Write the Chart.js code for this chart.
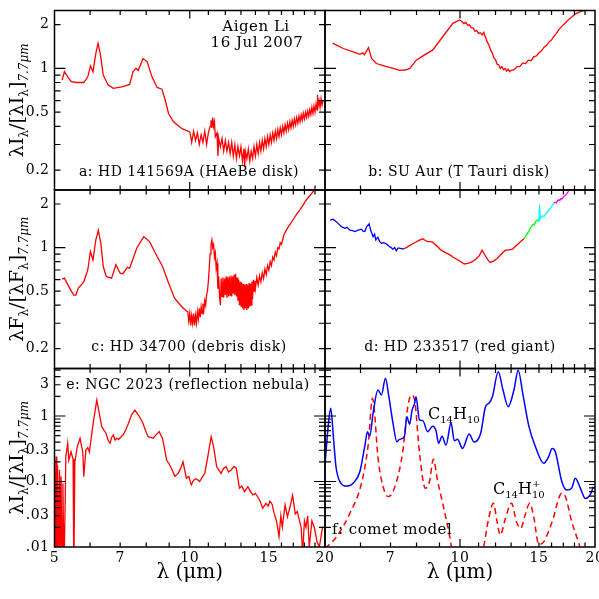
<!DOCTYPE html>
<html lang="en">
<head>
<meta charset="UTF-8">
<title>PAH spectra, six panels</title>
<script src="https://cdn.jsdelivr.net/npm/chart.js"></script>
<style>
  body { margin: 0; background: #fff; }
  #wrap { position: relative; width: 599px; height: 599px; }
  #wrap canvas { position: absolute; left: 0; top: 0; }
</style>
</head>
<body>
<div id="wrap">
  <canvas id="panelA" width="599" height="599"></canvas>
  <canvas id="panelB" width="599" height="599"></canvas>
  <canvas id="panelC" width="599" height="599"></canvas>
  <canvas id="panelD" width="599" height="599"></canvas>
  <canvas id="panelE" width="599" height="599"></canvas>
  <canvas id="panelF" width="599" height="599"></canvas>
</div>
<script>
// --- data (wavelength in micron, flux normalised at 7.7 micron) ---
const xTicks = [5, 6, 7, 8, 9, 10, 11, 12, 13, 14, 15, 16, 17, 18, 19, 20];
const xLabels = [5, 7, 10, 15, 20];
const yTicksTop = [0.2, 0.3, 0.4, 0.5, 0.6, 0.7, 0.8, 0.9, 1, 2];
const yLabelsTop = [0.2, 0.5, 1, 2];
const yTicksBottom = [0.01, 0.02, 0.03, 0.04, 0.05, 0.06, 0.07, 0.08, 0.09,
                      0.1, 0.2, 0.3, 0.4, 0.5, 0.6, 0.7, 0.8, 0.9, 1, 2, 3, 4, 5];
const yLabelsBottom = [0.01, 0.03, 0.1, 0.3, 1, 3];
const yLabelsBottomText = ['.01', '.03', '0.1', '0.3', '1', '3'];

// a: HD 141569A
const aWave = [5.2, 5.26, 5.37, 5.45, 5.6, 5.81, 5.93, 6.01, 6.09, 6.18, 6.25, 6.32, 6.42, 6.58, 6.76, 7.1,
  7.35, 7.48, 7.59, 7.68, 7.87, 8.04, 8.24, 8.46, 8.67, 8.82, 8.97, 9.2, 9.61, 10.0,
  10.05, 10.1, 10.2, 10.3, 10.4, 10.5, 10.6, 10.7, 10.8, 10.9, 11.0, 11.1, 11.15, 11.2, 11.25, 11.3, 11.35,
  11.4, 11.5, 11.55, 11.6, 11.7, 11.8, 11.9, 12.0, 12.1, 12.2, 12.3, 12.4, 12.5, 12.6, 12.7, 12.8, 12.9,
  13.0, 13.1, 13.2, 13.25, 13.3, 13.4, 13.5, 13.6, 13.7, 13.8, 13.9, 14.0, 14.1, 14.2, 14.3, 14.4, 14.5,
  14.6, 14.7, 14.8, 14.9, 15.0, 15.1, 15.2, 15.3, 15.4, 15.5, 15.6, 15.7, 15.8, 15.9, 16.0, 16.1, 16.2,
  16.3, 16.4, 16.5, 16.6, 16.7, 16.8, 16.9, 17.0, 17.1, 17.2, 17.3, 17.4, 17.5, 17.6, 17.7, 17.8, 17.9,
  18.0, 18.1, 18.2, 18.3, 18.4, 18.5, 18.6, 18.7, 18.8, 18.9, 19.0, 19.1, 19.2, 19.25, 19.3, 19.4, 19.5,
  19.6, 19.7, 19.8];
const aFlux = [0.83, 0.95, 0.86, 0.81, 0.80, 0.80, 0.875, 1.04, 0.95, 1.27, 1.49, 1.27, 0.90, 0.77, 0.73, 0.75,
  0.776, 0.95, 1.0, 0.97, 1.17, 1.11, 0.875, 0.74, 0.72, 0.604, 0.49, 0.43, 0.385, 0.366,
  0.34, 0.31, 0.37, 0.32, 0.36, 0.30, 0.35, 0.31, 0.37, 0.30, 0.36, 0.40, 0.44, 0.39, 0.46, 0.40, 0.43,
  0.34, 0.36, 0.25, 0.33, 0.29, 0.33, 0.27, 0.32, 0.27, 0.31, 0.26, 0.31, 0.25, 0.30, 0.24, 0.29, 0.25,
  0.29, 0.23, 0.28, 0.21, 0.27, 0.24, 0.28, 0.23, 0.27, 0.24, 0.29, 0.25, 0.30, 0.26, 0.31, 0.27, 0.32,
  0.28, 0.33, 0.29, 0.34, 0.30, 0.35, 0.31, 0.36, 0.32, 0.37, 0.33, 0.38, 0.34, 0.39, 0.35, 0.40, 0.36,
  0.41, 0.37, 0.42, 0.38, 0.43, 0.39, 0.44, 0.40, 0.45, 0.41, 0.46, 0.42, 0.47, 0.43, 0.48, 0.44, 0.49,
  0.45, 0.50, 0.46, 0.51, 0.47, 0.52, 0.48, 0.54, 0.49, 0.55, 0.50, 0.57, 0.52, 0.66, 0.55, 0.60, 0.54,
  0.62, 0.56, 0.60];

// b: SU Aur
const bWave = [5.2, 5.49, 5.78, 5.98, 6.07, 6.12, 6.25, 6.35, 6.51, 6.85, 7.1, 7.33, 7.55, 7.73, 7.99, 8.27,
  8.7, 9.15, 9.64, 9.98, 10.1, 10.2, 10.3, 10.4, 10.5, 10.6, 10.7, 10.8, 10.9, 11.0, 11.1, 11.2, 11.3,
  11.35, 11.4, 11.5, 11.6, 11.7, 11.8, 11.9, 12.0, 12.1, 12.2, 12.3, 12.4, 12.5, 12.6, 12.7, 12.8, 12.9,
  13.0, 13.2, 13.4, 13.6, 13.8, 14.0, 14.2, 14.4, 14.6, 14.8, 15.0, 15.2, 15.4, 15.6, 15.8, 16.0, 16.2,
  16.4, 16.6, 16.9, 17.2, 17.5, 17.8, 18.1, 18.4, 18.7, 19.2, 19.5];
const bFlux = [1.49, 1.37, 1.30, 1.25, 1.28, 1.24, 1.39, 1.17, 1.08, 1.03, 1.0, 0.97, 0.975, 1.0, 1.14, 1.22,
  1.34, 1.65, 2.04, 2.15, 2.1, 2.03, 2.07, 1.98, 1.99, 1.9, 1.9, 1.8, 1.82, 1.74, 1.76, 1.7, 1.77,
  1.68, 1.64, 1.52, 1.45, 1.34, 1.28, 1.18, 1.15, 1.07, 1.06, 1.0, 1.03, 0.98, 1.0, 0.96, 0.99, 0.95,
  0.97, 0.98, 1.03, 1.03, 1.09, 1.08, 1.14, 1.13, 1.2, 1.22, 1.28, 1.32, 1.40, 1.44, 1.52, 1.57, 1.66,
  1.74, 1.84, 1.96, 2.06, 2.18, 2.27, 2.37, 2.43, 2.48, 2.52, 2.6];

// c: HD 34700
const cWave = [5.2, 5.26, 5.33, 5.45, 5.52, 5.58, 5.65, 5.81, 5.93, 6.01, 6.09, 6.18, 6.26, 6.34, 6.42, 6.52,
  6.7, 6.85, 7.0, 7.1, 7.26, 7.35, 7.62, 7.9, 8.14, 8.46, 8.7, 8.95, 9.25, 9.6, 9.85,
  9.9, 9.95, 10.0, 10.05, 10.1, 10.15, 10.2, 10.25, 10.3, 10.35, 10.4, 10.45, 10.5, 10.55, 10.6, 10.65,
  10.7, 10.75, 10.8, 10.85, 10.9, 10.95, 11.0, 11.05, 11.1, 11.15, 11.2, 11.25, 11.3, 11.35, 11.4, 11.45,
  11.5, 11.55, 11.6, 11.65, 11.7, 11.75, 11.8, 11.85, 11.9, 11.95, 12.0, 12.05, 12.1, 12.15, 12.2, 12.25,
  12.3, 12.35, 12.4, 12.45, 12.5, 12.55, 12.6, 12.65, 12.7, 12.75, 12.8, 12.85, 12.9, 12.95, 13.0, 13.05,
  13.1, 13.15, 13.2, 13.25, 13.3, 13.35, 13.4, 13.45, 13.5, 13.55, 13.6, 13.65, 13.7, 13.75, 13.8, 13.85,
  13.9, 13.95, 14.0, 14.1, 14.2, 14.3, 14.4, 14.5, 14.6, 14.7, 14.8, 14.9, 15.0, 15.1, 15.2, 15.3, 15.4,
  15.5, 15.6, 15.7, 15.8, 15.9, 16.0, 16.2, 16.4, 16.6, 16.8, 17.0, 17.3, 17.6, 17.9, 18.2, 18.5, 18.9, 19.1];
const cFlux = [0.605, 0.615, 0.568, 0.50, 0.47, 0.47, 0.525, 0.58, 0.70, 0.94, 0.82, 1.13, 1.32, 1.07, 0.74, 0.63,
  0.615, 0.76, 0.665, 0.66, 0.73, 0.72, 0.99, 1.19, 1.1, 0.867, 0.74, 0.58, 0.447, 0.39, 0.363,
  0.36, 0.31, 0.35, 0.29, 0.34, 0.30, 0.35, 0.29, 0.34, 0.30, 0.36, 0.32, 0.38, 0.33, 0.39, 0.35,
  0.41, 0.37, 0.43, 0.40, 0.47, 0.50, 0.58, 0.72, 0.90, 1.05, 1.13, 1.0, 1.05, 0.86, 0.92, 0.72,
  0.78, 0.52, 0.63, 0.46, 0.40, 0.61, 0.46, 0.62, 0.45, 0.61, 0.47, 0.63, 0.45, 0.62, 0.46, 0.63,
  0.47, 0.64, 0.46, 0.63, 0.48, 0.65, 0.47, 0.66, 0.46, 0.62, 0.43, 0.60, 0.40, 0.58, 0.39, 0.57,
  0.38, 0.56, 0.37, 0.55, 0.38, 0.56, 0.37, 0.55, 0.38, 0.57, 0.39, 0.56, 0.40, 0.58, 0.44, 0.60,
  0.50, 0.59, 0.52, 0.62, 0.55, 0.64, 0.58, 0.67, 0.61, 0.71, 0.65, 0.75, 0.70, 0.80, 0.75, 0.86, 0.82,
  0.93, 0.88, 1.0, 0.98, 1.08, 1.05, 1.22, 1.32, 1.40, 1.48, 1.57, 1.70, 1.83, 1.98, 2.15, 2.28, 2.48, 2.56];

// d: HD 233517, pieces from different instruments
const dBlueWave = [5.13, 5.21, 5.28, 5.35, 5.45, 5.54, 5.6, 5.68, 5.76, 5.83, 5.93, 6.03, 6.08, 6.13, 6.2,
  6.27, 6.33, 6.4, 6.45, 6.49, 6.56, 6.62, 6.68, 6.76, 6.85, 6.95, 7.02, 7.08, 7.15, 7.21, 7.27, 7.33, 7.42, 7.52];
const dBlueFlux = [1.55, 1.57, 1.52, 1.47, 1.39, 1.36, 1.38, 1.32, 1.31, 1.29, 1.32, 1.34, 1.30, 1.29, 1.40,
  1.46, 1.30, 1.19, 1.24, 1.13, 1.18, 1.10, 1.07, 1.08, 1.06, 1.02, 1.0, 0.975, 1.0, 0.95, 0.99, 0.99, 0.98, 0.985];
const dRedWave = [7.52, 7.59, 7.75, 7.92, 8.1, 8.26, 8.37, 8.47, 8.6, 8.69, 8.9, 9.07, 9.3, 9.5, 9.63, 9.9,
  10.22, 10.45, 10.66, 10.85, 11.03, 11.2, 11.4, 11.55, 11.67, 11.9, 12.1, 12.35, 12.6, 12.85, 13.1, 13.3,
  13.53, 13.7, 13.88];
const dRedFlux = [0.985, 1.0, 1.04, 1.08, 1.12, 1.15, 1.12, 1.10, 1.10, 1.09, 1.02, 0.96, 0.92, 0.89, 0.86, 0.82,
  0.77, 0.78, 0.80, 0.83, 0.875, 0.96, 0.875, 0.82, 0.79, 0.81, 0.84, 0.90, 0.955, 0.965, 0.975, 1.02,
  1.07, 1.11, 1.15];
const dGreenWave = [13.88, 13.95, 14.05, 14.15, 14.25, 14.35, 14.45, 14.55, 14.65, 14.75, 14.86, 14.95];
const dGreenFlux = [1.15, 1.17, 1.22, 1.26, 1.30, 1.37, 1.40, 1.45, 1.44, 1.52, 1.55, 1.52];
const dCyanWave = [14.95, 15.0, 15.05, 15.1, 15.2, 15.3, 15.4, 15.5, 15.6, 15.7, 15.8, 15.9, 16.0, 16.1, 16.2];
const dCyanFlux = [1.52, 1.60, 1.97, 1.58, 1.62, 1.66, 1.64, 1.70, 1.74, 1.76, 1.84, 1.86, 1.93, 1.97, 2.03];
const dMagWave = [16.2, 16.3, 16.4, 16.5, 16.6, 16.7, 16.8, 16.9, 17.0, 17.1, 17.2, 17.3, 17.4, 17.5];
const dMagFlux = [2.03, 2.06, 2.04, 2.10, 2.14, 2.12, 2.18, 2.17, 2.24, 2.28, 2.30, 2.36, 2.42, 2.5];

// e: NGC 2023
const eWave = [5.0, 5.02, 5.04, 5.06, 5.08, 5.1, 5.13, 5.15, 5.17, 5.2, 5.22, 5.25, 5.3, 5.35, 5.38, 5.44, 5.5,
  5.52, 5.55, 5.62, 5.7, 5.78, 5.81, 5.87, 5.93, 5.98, 6.08, 6.16, 6.21, 6.29, 6.37, 6.45, 6.51, 6.59, 6.65,
  6.7, 6.76, 6.82, 6.88, 6.95, 7.05, 7.12, 7.23, 7.32, 7.42, 7.55, 7.68, 7.78, 7.87, 7.97, 8.08, 8.18,
  8.29, 8.42, 8.55, 8.7, 8.8, 8.88, 8.98, 9.1, 9.18, 9.26, 9.42, 9.55, 9.66, 9.83, 9.95, 10.08, 10.2,
  10.34, 10.52, 10.65, 10.8, 10.97, 11.16, 11.3, 11.48, 11.6, 11.74, 11.9, 12.05, 12.2, 12.37, 12.55,
  12.69, 12.9, 13.05, 13.24, 13.47, 13.65, 13.82, 14.0, 14.17, 14.35, 14.53, 14.78, 14.95, 15.08, 15.25,
  15.41, 15.6, 15.8, 15.95, 16.07, 16.3, 16.5, 16.7, 16.94, 17.17, 17.35, 17.53, 17.7, 17.83, 18.0,
  18.14, 18.3, 18.45, 18.7, 18.93, 19.2, 19.43, 19.76];
const eFlux = [0.213, 0.004, 0.24, 0.004, 0.18, 0.004, 0.15, 0.004, 0.12, 0.004, 0.094, 0.004, 0.24, 0.383,
  0.21, 0.285, 0.22, 0.004, 0.2, 0.34, 0.457, 0.28, 0.118, 0.3, 0.33, 0.28, 0.687, 1.23, 1.75, 1.1, 0.687,
  0.6, 0.545, 0.42, 0.383, 0.47, 0.513, 0.43, 0.457, 0.44, 0.49, 0.52, 0.649, 0.8, 1.04, 1.23, 1.04, 0.9,
  0.774, 0.6, 0.483, 0.47, 0.457, 0.52, 0.576, 0.45, 0.3, 0.213, 0.19, 0.159, 0.14, 0.12, 0.133, 0.16,
  0.2, 0.112, 0.12, 0.089, 0.105, 0.11, 0.1, 0.115, 0.133, 0.24, 0.483, 0.34, 0.168, 0.15, 0.133, 0.16,
  0.168, 0.14, 0.15, 0.17, 0.16, 0.079, 0.085, 0.07, 0.083, 0.07, 0.0623, 0.066, 0.058, 0.05, 0.039,
  0.0465, 0.042, 0.05, 0.045, 0.0326, 0.025, 0.0144, 0.03, 0.02, 0.044, 0.029, 0.04, 0.062, 0.032, 0.035,
  0.026, 0.02, 0.008, 0.025, 0.02, 0.03, 0.01, 0.025, 0.02, 0.012, 0.01, 0.0205];

// f: comet model, neutral and cation anthracene
const fNeuWave = [5.0, 5.09, 5.15, 5.22, 5.29, 5.4, 5.59, 5.78, 5.98, 6.13, 6.22, 6.29, 6.4, 6.56, 6.68, 6.82,
  6.94, 7.09, 7.23, 7.33, 7.52, 7.61, 7.72, 7.82, 7.92, 7.98, 8.12, 8.26, 8.47, 8.69, 8.84, 8.96, 9.12,
  9.31, 9.55, 9.71, 9.87, 10.13, 10.48, 10.75, 11.12, 11.4, 11.6, 11.81, 12.17, 12.47, 12.81, 13.19,
  13.48, 13.82, 14.24, 14.73, 15.37, 15.77, 16.04, 16.3, 16.87, 17.3, 17.76, 18.07, 18.54, 19.03, 19.52, 19.84];
const fNeuFlux = [0.179, 0.774, 1.31, 0.483, 0.168, 0.099, 0.085, 0.094, 0.141, 0.34, 0.576, 0.49, 1.1, 2.49, 2.1, 3.76,
  1.97, 0.774, 0.405, 0.44, 0.49, 0.976, 0.75, 1.23, 1.56, 1.97, 0.87, 0.85, 0.576, 0.7, 0.6, 0.383, 0.49,
  0.36, 0.79, 0.42, 0.44, 0.32, 0.53, 0.40, 0.545, 1.39, 1.56, 1.97, 4.75, 2.49, 1.39, 2.49,
  5.0, 2.1, 0.7, 0.34, 0.19, 0.24, 0.32, 0.29, 0.099, 0.074, 0.08, 0.112, 0.08, 0.055, 0.063, 0.083];
const fIonWave = [5.0, 5.31, 5.68, 6.03, 6.24, 6.38, 6.45, 6.56, 6.79, 6.94, 7.2, 7.45, 7.65, 7.79, 7.92, 8.12,
  8.37, 8.55, 8.72, 8.92, 9.15, 9.46, 9.71, 10.5, 11.0, 11.31, 11.61, 11.87, 12.1, 12.3, 12.6, 13.03, 13.37,
  13.67, 13.95, 14.31, 14.6, 14.98, 15.37, 16.04, 16.87, 17.16, 17.76, 18.38, 18.7];
const fIonFlux = [0.0095, 0.0144, 0.0326, 0.094, 0.36, 1.86, 1.1, 0.24, 0.07, 0.059, 0.094, 0.28, 1.39, 2.09, 1.75, 0.28,
  0.079, 0.1, 0.218, 0.1, 0.0465, 0.016, 0.006, 0.003, 0.003, 0.0105, 0.029, 0.0465, 0.024, 0.0152, 0.026, 0.0465, 0.024,
  0.0193, 0.03, 0.0465, 0.029, 0.011, 0.012, 0.024, 0.066, 0.06, 0.024, 0.0117, 0.008];

// --- drawing ---
const FONT = 'DejaVu Serif';
const RED = '#ff0000', BLUE = '#0000ff';

function pts(w, f) { return w.map((v, i) => ({ x: v, y: f[i] })); }

function line(data, color, extra) {
  return Object.assign({
    data: data, borderColor: color, borderWidth: 1.3, pointRadius: 0,
    fill: false, tension: 0, clip: 0
  }, extra || {});
}

function drawFrame(chart, yTicks, majorY) {
  const { ctx, chartArea: a, scales: { x, y } } = chart;
  ctx.save();
  ctx.strokeStyle = '#000';
  ctx.lineWidth = 1.5;
  ctx.strokeRect(a.left, a.top, a.right - a.left, a.bottom - a.top);
  ctx.lineWidth = 1.2;
  ctx.beginPath();
  xTicks.forEach(v => {
    if (v <= 5 || v >= 20) return;
    const px = x.getPixelForValue(v);
    const len = v === 10 ? 8 : 4.5;
    ctx.moveTo(px, a.top); ctx.lineTo(px, a.top + len);
    ctx.moveTo(px, a.bottom); ctx.lineTo(px, a.bottom - len);
  });
  yTicks.forEach(v => {
    const py = y.getPixelForValue(v);
    if (py <= a.top + 1 || py >= a.bottom - 1) return;
    const len = majorY.includes(v) ? 11 : 6;
    ctx.moveTo(a.left, py); ctx.lineTo(a.left + len, py);
    ctx.moveTo(a.right, py); ctx.lineTo(a.right - len, py);
  });
  ctx.stroke();
  ctx.restore();
}

function drawText(ctx, txt, x, y, size, align) {
  ctx.save();
  ctx.font = size + 'px ' + FONT;
  ctx.fillStyle = '#000';
  ctx.textAlign = align || 'center';
  ctx.textBaseline = 'middle';
  ctx.letterSpacing = '0.5px';
  ctx.fillText(txt, x, y);
  ctx.restore();
}

function drawYLabels(chart, values, texts) {
  const { ctx, chartArea: a, scales: { y } } = chart;
  values.forEach((v, i) => drawText(ctx, texts ? texts[i] : String(v), a.left - 5, y.getPixelForValue(v), 14, 'right'));
}

function drawXLabels(chart, skipFirst) {
  const { ctx, chartArea: a, scales: { x } } = chart;
  xLabels.forEach(v => {
    if (skipFirst && v === 5) return;
    drawText(ctx, String(v), x.getPixelForValue(v), a.bottom + 11, 14);
  });
  ctx.save();
  ctx.font = '20px ' + FONT;
  ctx.textAlign = 'center';
  ctx.textBaseline = 'alphabetic';
  ctx.fillText('λ (μm)', (a.left + a.right) / 2, a.bottom + 31);
  ctx.restore();
}

// rotated y title with subscripts, e.g. λIλ/[λIλ]7.7μm
function drawYTitle(chart, sym) {
  const { ctx, chartArea: a } = chart;
  const big = '19px ' + FONT, small = '12px ' + FONT, smallIt = 'italic 12px ' + FONT;
  const parts = [['λ' + sym, big, 0], ['λ', small, 5], ['/[λ' + sym, big, 0], ['λ', small, 5],
                 [']', big, 0], ['7.7μm', smallIt, 5]];
  ctx.save();
  ctx.translate(16, (a.top + a.bottom) / 2);
  ctx.rotate(-Math.PI / 2);
  ctx.fillStyle = '#000';
  let total = 0;
  parts.forEach(p => { ctx.font = p[1]; total += ctx.measureText(p[0]).width; });
  let pos = -total / 2;
  parts.forEach(p => {
    ctx.font = p[1];
    ctx.fillText(p[0], pos, 7 + p[2]);
    pos += ctx.measureText(p[0]).width;
  });
  ctx.restore();
}

function chem(ctx, x, y, sub, plus) {
  ctx.save();
  ctx.fillStyle = '#000';
  ctx.textBaseline = 'alphabetic';
  let pos = x;
  const put = (t, size, dy) => { ctx.font = size + 'px ' + FONT; ctx.fillText(t, pos, y + dy); pos += ctx.measureText(t).width; };
  put('C', 16, 0); put('14', 10, 4); put('H', 16, 0);
  if (plus) { ctx.font = '10px ' + FONT; ctx.fillText('+', pos, y - 7); }
  put(sub, 10, 4);
  ctx.restore();
}

function makePanel(id, rect, yRange, datasets, yTicks, majorY, decorate) {
  const deco = {
    id: 'deco',
    afterDatasetsDraw(chart) {
      drawFrame(chart, yTicks, majorY);
      decorate(chart);
    }
  };
  return new Chart(document.getElementById(id), {
    type: 'line',
    data: { datasets: datasets },
    options: {
      responsive: false,
      animation: false,
      events: [],
      layout: { padding: { left: rect[0], top: rect[1], right: 599 - rect[2], bottom: 599 - rect[3] } },
      scales: {
        x: { type: 'logarithmic', min: 5, max: 20, display: false },
        y: { type: 'logarithmic', min: yRange[0], max: yRange[1], display: false }
      },
      plugins: { legend: { display: false }, tooltip: { enabled: false } }
    },
    plugins: [deco]
  });
}

const L = 54.5, M = 325, R = 595;
const T1 = 10.5, T2 = 190, T3 = 368.5, B = 547;
const topRange = [0.146, 2.5], botRange = [0.01, 5.31];
const majTop = [1], majBot = [0.01, 0.1, 1];

makePanel('panelA', [L, T1, M, T2], topRange, [line(pts(aWave, aFlux), RED)], yTicksTop, majTop, chart => {
  drawYLabels(chart, yLabelsTop);
  drawYTitle(chart, 'I');
  drawText(chart.ctx, 'Aigen Li', 256, 27, 15);
  drawText(chart.ctx, '16 Jul 2007', 257, 43, 15);
  drawText(chart.ctx, 'a: HD 141569A (HAeBe disk)', 189, 172, 14);
});

makePanel('panelB', [M, T1, R, T2], topRange, [line(pts(bWave, bFlux), RED)], yTicksTop, majTop, chart => {
  drawText(chart.ctx, 'b: SU Aur (T Tauri disk)', 459, 172, 14);
});

makePanel('panelC', [L, T2, M, T3], topRange, [line(pts(cWave, cFlux), RED)], yTicksTop, majTop, chart => {
  drawYLabels(chart, yLabelsTop);
  drawYTitle(chart, 'F');
  drawText(chart.ctx, 'c: HD 34700 (debris disk)', 189, 347, 14);
});

makePanel('panelD', [M, T2, R, T3], topRange, [
  line(pts(dBlueWave, dBlueFlux), BLUE),
  line(pts(dRedWave, dRedFlux), RED),
  line(pts(dGreenWave, dGreenFlux), '#00ff00'),
  line(pts(dCyanWave, dCyanFlux), '#00ffff'),
  line(pts(dMagWave, dMagFlux), '#ff00ff')
], yTicksTop, majTop, chart => {
  drawText(chart.ctx, 'd: HD 233517 (red giant)', 460, 347, 14);
});

makePanel('panelE', [L, T3, M, B], botRange, [line(pts(eWave, eFlux), RED)], yTicksBottom, majBot, chart => {
  drawYLabels(chart, yLabelsBottom, yLabelsBottomText);
  drawYTitle(chart, 'I');
  drawXLabels(chart, false);
  drawText(chart.ctx, 'e: NGC 2023 (reflection nebula)', 188, 385, 14);
});

makePanel('panelF', [M, T3, R, B], botRange, [
  line(pts(fNeuWave, fNeuFlux), BLUE, { borderWidth: 1.5, cubicInterpolationMode: 'monotone' }),
  line(pts(fIonWave, fIonFlux), RED, { borderWidth: 1.5, borderDash: [6, 4], cubicInterpolationMode: 'monotone' })
], yTicksBottom, majBot, chart => {
  drawXLabels(chart, true);
  drawText(chart.ctx, 'f: comet model', 332, 530, 15, 'left');
  chem(chart.ctx, 428, 419, '10', false);
  chem(chart.ctx, 493, 494, '10', true);
});
</script>
</body>
</html>
